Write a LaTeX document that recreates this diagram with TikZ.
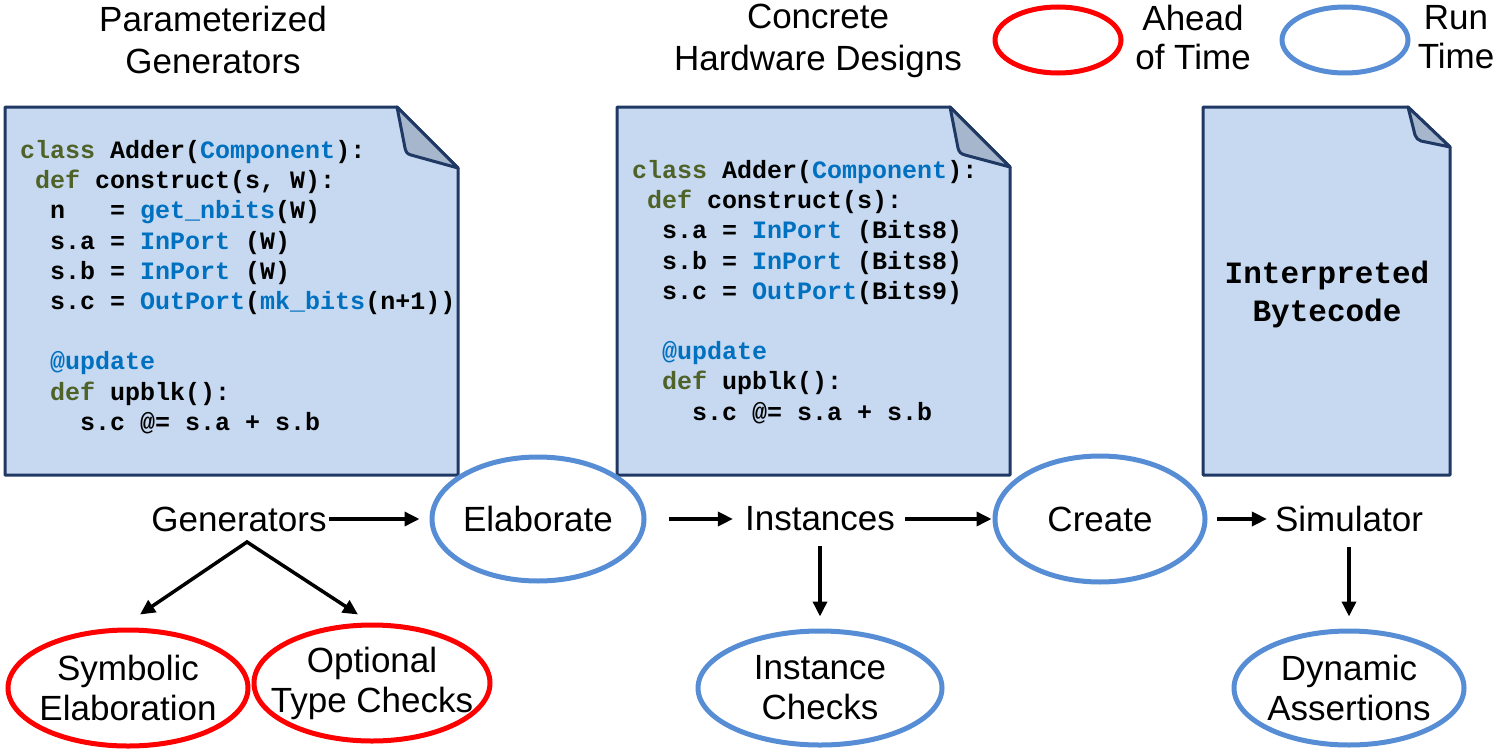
\documentclass[tikz,border=0pt]{standalone}
\usepackage{fontspec}
\setmainfont{Liberation Sans}
\newfontfamily\codefont{Liberation Mono}
\usetikzlibrary{arrows.meta,shapes.geometric}

\definecolor{docfill}{RGB}{198,217,240}
\definecolor{docline}{RGB}{31,56,100}
\definecolor{docfold}{RGB}{166,182,204}
\definecolor{kwgreen}{RGB}{79,98,40}
\definecolor{tyblue}{RGB}{0,112,192}
\definecolor{aotred}{RGB}{255,0,0}
\definecolor{rtblue}{RGB}{86,141,212}

% one source line of code, keywords and library names
\newcommand\codeln[1]{\hbox{#1}}
\newcommand\kwd[1]{\textcolor{kwgreen}{#1}}
\newcommand\blu[1]{\textcolor{tyblue}{#1}}

\begin{document}
\begin{tikzpicture}[x=1pt,y=-1pt,
  doc/.style={fill=docfill,draw=docline,line width=3pt,line join=round},
  fold/.style={fill=docfold,draw=docline,line width=3pt,line join=round},
  txt/.style={font=\fontsize{35}{42}\selectfont,align=center,inner sep=2pt},
  code/.style={font=\codefont\bfseries\fontsize{25}{30.2}\selectfont,anchor=base west,inner sep=0pt},
  phase/.style={ellipse,draw,line width=5pt,inner xsep=-40pt,inner ysep=-20pt,
    font=\fontsize{35}{40}\selectfont,align=center},
  aot/.style={phase,draw=aotred},
  rt/.style={phase,draw=rtblue},
  flow/.style={line width=3.5pt,-{Triangle[length=15pt,width=14pt]}}
]
\useasboundingbox (0,0) rectangle (1496,752);

% ---- titles and legend ----
\node[txt] (gentitle) at (213,40) {Parameterized\\Generators};
\node[txt] (hwtitle) at (818,41) {Concrete\\Hardware Designs};
\node[aot,minimum width=126pt,minimum height=66pt] (legaot) at (1058,40) {};
\node[txt,font=\fontsize{35}{39}\selectfont] (legaottxt) at (1193,37) {Ahead\\of Time};
\node[rt,minimum width=126pt,minimum height=66pt] (legrt) at (1345,40) {};
\node[txt,font=\fontsize{35}{39}\selectfont] (legrttxt) at (1456,37) {Run\\Time};

% ---- generator source ----
\draw[doc] (5,107) -- (397,107) -- (458,168) -- (458,475) -- (5,475) -- cycle;
\draw[fold] (397,107) -- (405,148) .. controls (406,152) and (407,154) .. (411,155) -- (458,168) -- cycle;
\node[code] (gencode) at (20,158.5) {\vtop{
\codeln{\kwd{class}~Adder(\blu{Component}):}
\codeln{~\kwd{def}~construct(s,~W):}
\codeln{~~n~~~=~\blu{get\_nbits}(W)}
\codeln{~~s.a~=~\blu{InPort}~(W)}
\codeln{~~s.b~=~\blu{InPort}~(W)}
\codeln{~~s.c~=~\blu{OutPort}(\blu{mk\_bits}(n+1))}
\codeln{}
\codeln{~~\blu{@update}}
\codeln{~~\kwd{def}~upblk():}
\codeln{~~~~s.c~@=~s.a~+~s.b}}};

% ---- elaborated instance ----
\draw[doc] (617,107) -- (950,107) -- (1010,167) -- (1010,475) -- (617,475) -- cycle;
\draw[fold] (950,107) -- (958,148) .. controls (959,152) and (961,154) .. (965,155) -- (1010,167) -- cycle;
\node[code] (instcode) at (632,178.5) {\vtop{
\codeln{\kwd{class}~Adder(\blu{Component}):}
\codeln{~\kwd{def}~construct(s):}
\codeln{~~s.a~=~\blu{InPort}~(Bits8)}
\codeln{~~s.b~=~\blu{InPort}~(Bits8)}
\codeln{~~s.c~=~\blu{OutPort}(Bits9)}
\codeln{}
\codeln{~~\blu{@update}}
\codeln{~~\kwd{def}~upblk():}
\codeln{~~~~s.c~@=~s.a~+~s.b}}};

% ---- simulator bytecode ----
\draw[doc] (1203,107) -- (1408,107) -- (1450,147) -- (1450,475) -- (1203,475) -- cycle;
\draw[fold] (1408,107) -- (1415,135) .. controls (1416,138) and (1418,140) .. (1421,141) -- (1450,147) -- cycle;
\node[font=\codefont\bfseries\fontsize{31}{38}\selectfont,align=center] (bytecode) at (1327,294) {Interpreted\\Bytecode};

% ---- flow ----
\node[txt] (gen) at (239,519) {Generators};
\node[rt,minimum width=212pt,minimum height=124pt] (elab) at (538,519) {Elaborate};
\node[txt] (inst) at (820,519) {Instances};
\node[rt,minimum width=210pt,minimum height=126pt] (create) at (1100,519) {Create};
\node[txt] (sim) at (1349,519) {Simulator};

\node[aot,minimum width=240pt,minimum height=116pt] (symb) at (128,688) {Symbolic\\Elaboration};
\node[aot,minimum width=236pt,minimum height=116pt] (opt) at (372,683) {Optional\\Type Checks};
\node[rt,minimum width=244pt,minimum height=114pt] (ichk) at (820,688) {Instance\\Checks};
\node[rt,minimum width=230pt,minimum height=114pt] (dyn) at (1349,688) {Dynamic\\Assertions};

\draw[flow,shorten >=10pt] (gen.east) -- (elab.west);
\draw[flow,shorten <=22pt,shorten >=10pt] (elab.east) -- (inst.west);
\draw[flow,shorten <=8pt,shorten >=1pt] (inst.east) -- (create.west);
\draw[flow,shorten <=9pt,shorten >=6pt] (create.east) -- (sim.west);
\draw[flow,shorten <=13pt,shorten >=12pt] (inst.south) -- (ichk.north);
\draw[flow,shorten <=13pt,shorten >=12pt] (sim.south) -- (dyn.north);

\coordinate (split) at (247,542);
\draw[line width=3.5pt,line join=miter,
  {Triangle[length=15pt,width=14pt]}-{Triangle[length=15pt,width=14pt]}]
  ([xshift=12pt,yshift=13pt]symb.north) -- (split) -- ([xshift=-14pt,yshift=8pt]opt.north);
\end{tikzpicture}
\end{document}
